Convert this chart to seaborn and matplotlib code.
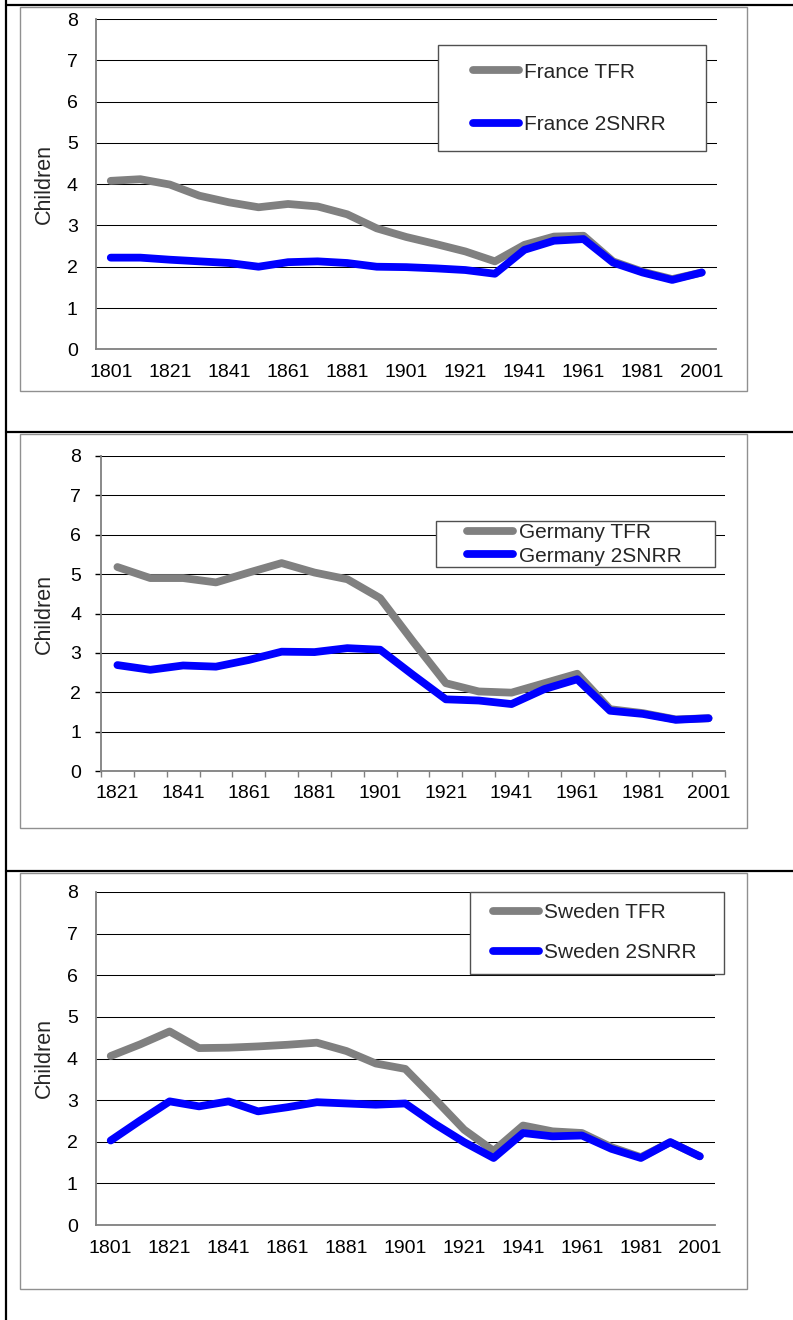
import matplotlib
matplotlib.use("Agg")
import matplotlib.pyplot as plt
import seaborn as sns
import pandas as pd
from matplotlib.lines import Line2D
from matplotlib.patches import Rectangle

# ---------------- data ----------------
years_france = [1801, 1811, 1821, 1831, 1841, 1851, 1861, 1871, 1881, 1891, 1901,
                1911, 1921, 1931, 1941, 1951, 1961, 1971, 1981, 1991, 2001]
france_tfr = [4.08, 4.12, 3.99, 3.72, 3.56, 3.44, 3.52, 3.46, 3.27, 2.93, 2.72,
              2.55, 2.37, 2.13, 2.53, 2.73, 2.75, 2.13, 1.88, 1.70, 1.86]
france_2snrr = [2.22, 2.22, 2.17, 2.13, 2.09, 2.00, 2.11, 2.13, 2.09, 2.00, 1.99,
                1.96, 1.92, 1.83, 2.41, 2.63, 2.67, 2.10, 1.86, 1.68, 1.86]

years_germany = [1821, 1831, 1841, 1851, 1861, 1871, 1881, 1891, 1901, 1911,
                 1921, 1931, 1941, 1951, 1961, 1971, 1981, 1991, 2001]
germany_tfr = [5.18, 4.90, 4.90, 4.79, 5.04, 5.28, 5.04, 4.87, 4.39, 3.29,
               2.23, 2.02, 1.99, 2.23, 2.47, 1.57, 1.47, 1.31, 1.34]
germany_2snrr = [2.69, 2.57, 2.68, 2.65, 2.82, 3.03, 3.02, 3.12, 3.08, 2.44,
                 1.82, 1.79, 1.70, 2.08, 2.33, 1.53, 1.45, 1.30, 1.34]

years_sweden = [1801, 1811, 1821, 1831, 1841, 1851, 1861, 1871, 1881, 1891, 1901,
                1911, 1921, 1931, 1941, 1951, 1961, 1971, 1981, 1991, 2001]
sweden_tfr = [4.06, 4.34, 4.65, 4.25, 4.26, 4.29, 4.33, 4.38, 4.18, 3.88, 3.75,
              3.03, 2.29, 1.78, 2.39, 2.25, 2.21, 1.87, 1.63, 1.99, 1.65]
sweden_2snrr = [2.03, 2.51, 2.97, 2.85, 2.97, 2.73, 2.83, 2.95, 2.92, 2.89, 2.92,
                2.43, 1.99, 1.61, 2.21, 2.13, 2.15, 1.83, 1.61, 1.99, 1.65]

y_ticks = [0, 1, 2, 3, 4, 5, 6, 7, 8]
y_label = "Children"

# ---------------- style ----------------
sns.set_theme(style="white")
plt.rcParams["font.family"] = ["Liberation Sans", "DejaVu Sans"]

W, H = 793, 1320
DPI = 100
fig = plt.figure(figsize=(W / DPI, H / DPI), dpi=DPI)
fig.patch.set_facecolor("white")

GRAY = "#808080"
BLUE = "#0000FF"
LW = 5.6
TICK_FS = 14
LEG_FS = 15
LAB_FS = 15.5
PX = DPI / 72.0


def fig_rect(l, t, r, b):
    return [l / W, 1 - b / H, (r - l) / W, (b - t) / H]


def panel(plot_px, years, tfr, snrr, country, leg_box, leg_rows, leg_x,
          xpad, ypad, ticks_out=False):
    l, t, r, b = plot_px
    ax = fig.add_axes(fig_rect(l, t, r, b))
    df = pd.DataFrame({"year": years, "TFR": tfr, "2SNRR": snrr})
    sns.lineplot(data=df, x="year", y="TFR", ax=ax, color=GRAY, lw=LW,
                 label=f"{country} TFR", solid_capstyle="round",
                 solid_joinstyle="round", zorder=3)
    sns.lineplot(data=df, x="year", y="2SNRR", ax=ax, color=BLUE, lw=LW,
                 label=f"{country} 2SNRR", solid_capstyle="round",
                 solid_joinstyle="round", zorder=3)
    ax.set_xlim(years[0] - 5, years[-1] + 5)
    ax.set_ylim(0, 8)
    ax.set_yticks(y_ticks)
    ax.set_yticklabels([str(v) for v in y_ticks], fontsize=TICK_FS)
    ax.set_xticks(years[::2])
    ax.set_xticklabels([str(v) for v in years[::2]], fontsize=TICK_FS)
    ax.set_xlabel("")
    ax.set_ylabel(y_label, fontsize=LAB_FS)
    ax.yaxis.set_label_coords((55 - l) / (r - l), 0.5)
    ax.set_axisbelow(True)
    ax.yaxis.grid(True, color="black", lw=0.75)
    ax.xaxis.grid(False)
    for s in ["top", "right"]:
        ax.spines[s].set_visible(False)
    for s in ["left", "bottom"]:
        ax.spines[s].set_color(GRAY)
        ax.spines[s].set_linewidth(1.3)
    if ticks_out:
        bounds = [y - 5 for y in years] + [years[-1] + 5]
        ax.set_xticks(bounds, minor=True)
        ax.tick_params(axis="x", which="minor", length=4, width=1,
                       color=GRAY, direction="out", bottom=True)
        ax.tick_params(axis="x", which="major", length=0, pad=xpad)
        ax.tick_params(axis="y", which="major", length=4, width=1,
                       color=GRAY, direction="out", left=True, pad=ypad)
    else:
        ax.tick_params(axis="x", which="both", length=0, pad=xpad)
        ax.tick_params(axis="y", which="both", length=0, pad=ypad)
    ax.tick_params(colors="black", which="major", labelcolor="black")

    # legend box
    bl, bt, br, bb = leg_box
    ax.add_patch(Rectangle((bl / W, 1 - bb / H), (br - bl) / W, (bb - bt) / H,
                           transform=fig.transFigure, facecolor="white",
                           edgecolor="#505050", lw=1.0, clip_on=False,
                           zorder=4))
    r1, r2 = leg_rows
    Fpx = LEG_FS * PX
    spacing = max((r2 - r1) / Fpx - 1.15, 0.0)
    anchor_x = leg_x + LW * PX / 2

    def make(sp, top):
        lg = ax.legend(loc="upper left", bbox_to_anchor=(anchor_x / W, 1 - top / H),
                       bbox_transform=fig.transFigure, frameon=False,
                       fontsize=LEG_FS, handlelength=2.2, handletextpad=0.25,
                       borderpad=0, borderaxespad=0, labelspacing=sp)
        lg.set_zorder(5)
        for h in lg.get_lines():
            h.set_linewidth(LW)
            h.set_solid_capstyle("round")
        return lg

    top = r1 - Fpx * 0.6
    lg = make(spacing, top)
    fig.canvas.draw()
    rend = fig.canvas.get_renderer()
    c = [H - (tx.get_window_extent(rend).y0 + tx.get_window_extent(rend).y1) / 2
         for tx in lg.get_texts()]
    spacing = max(spacing + ((r2 - r1) - (c[1] - c[0])) / Fpx, 0.0)
    lg = make(spacing, top)
    fig.canvas.draw()
    c = [H - (tx.get_window_extent(rend).y0 + tx.get_window_extent(rend).y1) / 2
         for tx in lg.get_texts()]
    top = top + (r1 - c[0])
    make(spacing, top)
    return ax


# ---------------- page decoration ----------------
for (fl, ft, fr, fb) in [(20, 7, 747, 391), (20, 434, 747, 828), (20, 873, 747, 1289)]:
    fig.add_artist(Rectangle((fl / W, 1 - fb / H), (fr - fl) / W, (fb - ft) / H,
                             transform=fig.transFigure, facecolor="none",
                             edgecolor="#909090", lw=1.0, zorder=1))
fig.add_artist(Line2D([6 / W, 6 / W], [0, 1], transform=fig.transFigure,
                      color="black", lw=1.6, zorder=2))
for yy in [5, 432, 871]:
    fig.add_artist(Line2D([6 / W, 1], [1 - yy / H, 1 - yy / H],
                          transform=fig.transFigure, color="black", lw=1.6, zorder=2))

# ---------------- panels ----------------
panel((96, 19, 716.5, 349.3), years_france, france_tfr, france_2snrr, "France",
      leg_box=(438, 45, 706, 151), leg_rows=(72, 125), leg_x=469,
      xpad=10.5, ypad=13.2)
panel((101, 456, 725, 771), years_germany, germany_tfr, germany_2snrr, "Germany",
      leg_box=(436, 521, 714.6, 567), leg_rows=(532.7, 556), leg_x=463.6,
      xpad=10.0, ypad=10.4, ticks_out=True)
panel((96, 892, 714.5, 1225), years_sweden, sweden_tfr, sweden_2snrr, "Sweden",
      leg_box=(469.6, 891.7, 724, 974), leg_rows=(912.7, 952.7), leg_x=489,
      xpad=10.8, ypad=13.2)

fig.savefig("out.png", dpi=DPI, facecolor="white")
